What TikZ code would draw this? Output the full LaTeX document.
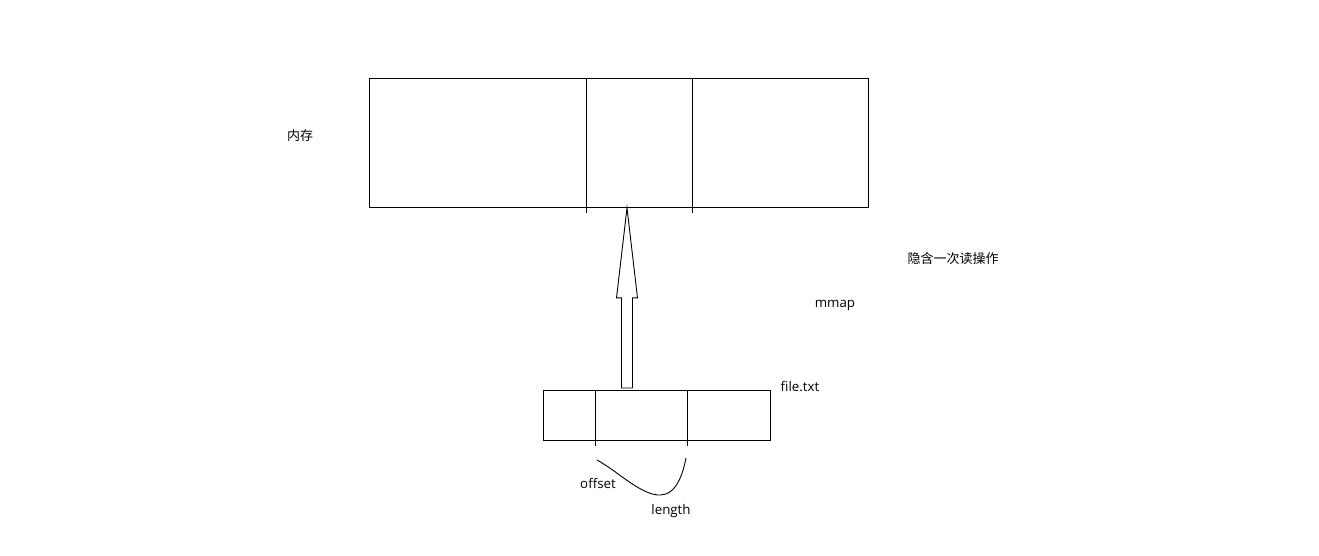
\documentclass[tikz,border=0pt]{standalone}
\usepackage{fontspec}
\setmainfont{Open Sans}
\newfontfamily\cjk{Noto Sans CJK SC}
\usetikzlibrary{calc,positioning}

\begin{document}
\begin{tikzpicture}[x=1pt, y=-1pt, line width=0.9pt,
  lbl/.style={inner sep=0pt, font=\fontsize{13.3}{15}\selectfont},
  cjklbl/.style={inner sep=0pt, font=\cjk\fontsize{13}{15}\selectfont},
  cell/.style={draw, inner sep=0pt, anchor=north west}]
\useasboundingbox (0,0) rectangle (1319,555);

% memory and file
\node[cell, minimum width=499, minimum height=129] (mem) at (369,78) {};
\node[cell, minimum width=227, minimum height=50] (file) at (543,390) {};
\draw (586,78) -- (586,213);
\draw (692,78) -- (692,213);
\draw (595,390) -- (595,446);
\draw (687,390) -- (687,446);

% mapping arrow
\coordinate (tail) at (627,388);
\coordinate (tip) at (tail |- mem.south);
\draw (tip) -- ($(tip)+(10.5,90)$) -- ($(tip)+(5.5,90)$) -- ($(tail)+(5.5,0)$)
  -- ($(tail)+(-5.5,0)$) -- ($(tip)+(-5.5,90)$) -- ($(tip)+(-10.5,90)$) -- cycle;

% range under the file
\coordinate (off) at (597,460);
\coordinate (len) at (686,458);
\draw (off) .. controls (630,478) and (672,530) .. (len);

\node[cjklbl] (memlbl) at (300,136) {内存};
\node[cjklbl] (readlbl) at (953,259) {隐含一次读操作};
\node[lbl] (mmaplbl) at (835,305) {mmap};
\node[lbl] (filelbl) at (800,386) {file.txt};
\node[lbl] (offlbl) at (598,483) {offset};
\node[lbl] (lenlbl) at (671,511) {length};
\end{tikzpicture}
\end{document}
